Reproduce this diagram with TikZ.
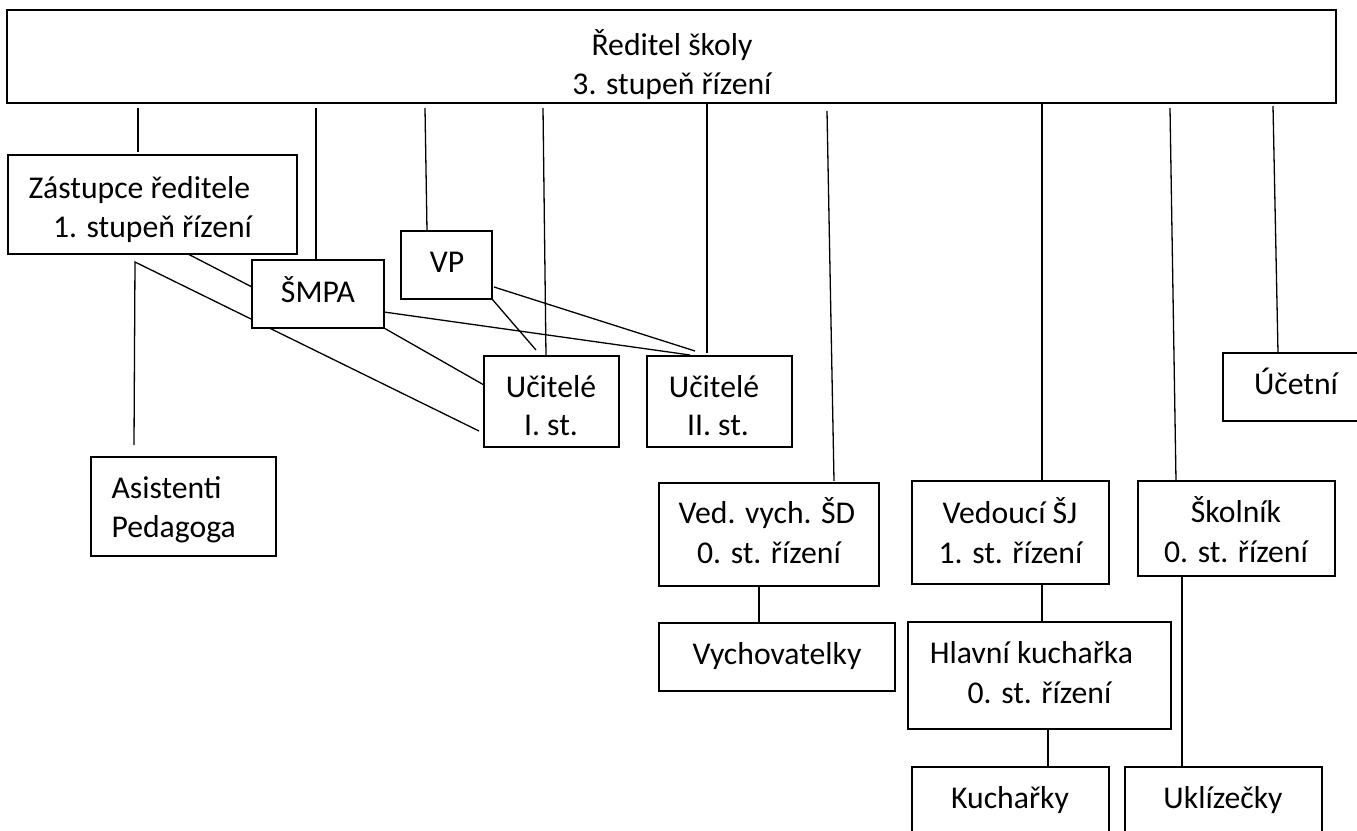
\documentclass[tikz,border=0pt]{standalone}
\usepackage{fontspec}
\setmainfont{Carlito}
\usetikzlibrary{calc}
\pgfdeclarelayer{bg}
\pgfsetlayers{bg,main}
\begin{document}
\begin{tikzpicture}[x=1pt,y=-1pt,
  box/.style={draw, line width=1.6pt, fill=white, rectangle, inner sep=0pt, outer sep=0pt, anchor=north west},
  conn/.style={line width=1.3pt},
  txt/.style={inner sep=0pt, outer sep=0pt, font=\fontsize{31.7}{38}\selectfont}]
\useasboundingbox (0,0) rectangle (1357,830);
\clip (0,0) rectangle (1357,830);
% boxes
\node[box, minimum width=1329pt, minimum height=93pt] (top) at (7,10) {};
\node[box, minimum width=289pt, minimum height=99pt] (zast) at (8,155) {};
\node[box, minimum width=132pt, minimum height=68pt] (smpa) at (252,260) {};
\node[box, minimum width=91pt, minimum height=68pt] (vp) at (401,231) {};
\node[box, minimum width=135pt, minimum height=91pt] (uc1) at (484,356) {};
\node[box, minimum width=145pt, minimum height=91pt] (uc2) at (647,356) {};
\node[box, minimum width=185pt, minimum height=99pt] (asist) at (91,457) {};
\node[box, minimum width=220pt, minimum height=103pt] (ved) at (659,483) {};
\node[box, minimum width=197pt, minimum height=103pt] (vsj) at (912,481) {};
\node[box, minimum width=197pt, minimum height=95pt] (skol) at (1138,481) {};
\node[box, minimum width=146pt, minimum height=68pt] (ucet) at (1223,353) {};
\node[box, minimum width=236pt, minimum height=68pt] (vych) at (659,623) {};
\node[box, minimum width=263pt, minimum height=107pt] (hlav) at (908,622) {};
\node[box, minimum width=197pt, minimum height=68pt] (kuch) at (912,767) {};
\node[box, minimum width=197pt, minimum height=68pt] (ukl) at (1125,767) {};
% texts
\node[txt, anchor=base] (ttop1) at (672,55) {Ředitel školy};
\node[txt, anchor=base] (ttop2) at (672,94) {3. stupeň řízení};
\node[txt, anchor=base west] (tzast1) at (28.5,198) {Zástupce ředitele};
\node[txt, anchor=base west] (tzast2) at (53,237) {1. stupeň řízení};
\node[txt, anchor=base] (tsmpa) at (318,302) {ŠMPA};
\node[txt, anchor=base] (tvp) at (447,272) {VP};
\node[txt, anchor=base] (tuc1a) at (551,397) {Učitelé};
\node[txt, anchor=base] (tuc1b) at (551,435) {I. st.};
\node[txt, anchor=base] (tuc2a) at (714,397) {Učitelé};
\node[txt, anchor=base] (tuc2b) at (718,435) {II. st.};
\node[txt, anchor=base west] (tasist1) at (111.5,498) {Asistenti};
\node[txt, anchor=base west] (tasist2) at (111.5,537) {Pedagoga};
\node[txt, anchor=base] (tved1) at (767,523) {Ved. vych. ŠD};
\node[txt, anchor=base] (tved2) at (769,563) {0. st. řízení};
\node[txt, anchor=base] (tvsj1) at (1010,523) {Vedoucí ŠJ};
\node[txt, anchor=base] (tvsj2) at (1010.5,563) {1. st. řízení};
\node[txt, anchor=base] (tskol1) at (1236,522) {Školník};
\node[txt, anchor=base] (tskol2) at (1236,562) {0. st. řízení};
\node[txt, anchor=base] (tucet) at (1296,394) {Účetní};
\node[txt, anchor=base] (tvych) at (777,664) {Vychovatelky};
\node[txt, anchor=base] (thlav1) at (1031.5,663) {Hlavní kuchařka};
\node[txt, anchor=base] (thlav2) at (1039.5,703) {0. st. řízení};
\node[txt, anchor=base] (tkuch) at (1010,808) {Kuchařky};
\node[txt, anchor=base] (tukl) at (1223,808) {Uklízečky};
% connectors
\begin{pgfonlayer}{bg}
\draw[conn] ($(top.south west)+(131,5)$) -- ($(zast.north west)+(130,-3)$);
\draw[conn] ($(top.south west)+(309,5)$) -- ($(smpa.north west)+(64,0)$);
\draw[conn] ($(top.south west)+(418,5)$) -- ($(vp.north west)+(26,0)$);
\draw[conn] ($(top.south west)+(536,5)$) -- ($(uc1.north west)+(62,0)$);
\draw[conn] ($(top.south west)+(700,0)$) -- ($(uc2.north west)+(60,-3)$);
\draw[conn] ($(top.south west)+(820,8)$) -- ($(ved.north west)+(175,-2)$);
\draw[conn] ($(top.south west)+(1035,0)$) -- ($(vsj.north west)+(130,0)$);
\draw[conn] ($(top.south west)+(1163,5)$) -- ($(skol.north west)+(38,0)$);
\draw[conn] ($(top.south west)+(1266,3)$) -- ($(ucet.north west)+(55,0)$);
\draw[conn] ($(zast.south west)+(180,0)$) -- ($(smpa.north west)+(0,27)$);
\draw[conn] ($(asist.north west)+(43,-12)$) -- ($(zast.south west)+(127,8)$) -- ($(uc1.north west)+(-5,75)$);
\draw[conn] (smpa.south east) -- ($(uc1.north west)+(0,29)$);
\draw[conn] ($(smpa.south east)+(0,-16)$) -- ($(uc2.north west)+(43,-1)$);
\draw[conn] (vp.south east) -- ($(uc1.north west)+(52,-6)$);
\draw[conn] ($(vp.south east)+(2,-12)$) -- ($(uc2.north west)+(48,-5)$);
\draw[conn] ($(ved.south west)+(100,0)$) -- ($(vych.north west)+(100,0)$);
\draw[conn] ($(vsj.south west)+(130,0)$) -- ($(hlav.north west)+(134,0)$);
\draw[conn] ($(hlav.south west)+(140,0)$) -- ($(kuch.north west)+(136,0)$);
\draw[conn] ($(skol.south west)+(44,0)$) -- ($(ukl.north west)+(57,0)$);
\end{pgfonlayer}
\end{tikzpicture}
\end{document}
